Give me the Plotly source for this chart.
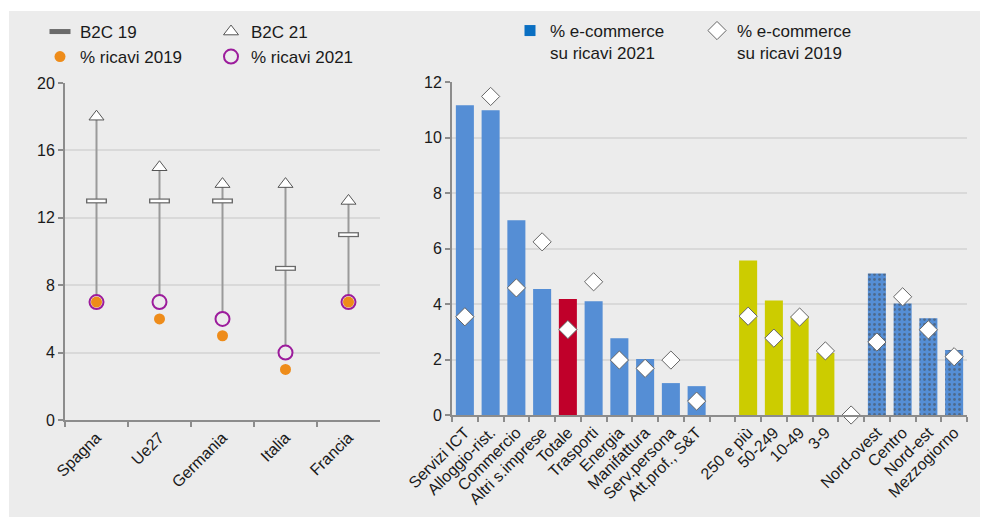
import plotly.graph_objects as go

# left panel: countries
countries = ["Spagna", "Ue27", "Germania", "Italia", "Francia"]
b2c_19 = [13, 13, 13, 9, 11]
b2c_21 = [18, 15, 14, 14, 13]
ricavi_2019 = [7, 6, 5, 3, 7]
ricavi_2021 = [7, 7, 6, 4, 7]
left_ticks = [0, 4, 8, 12, 16, 20]

# right panel: sectors, size classes, areas (blank names are spacer slots)
sectors = [
    "Servizi ICT", "Alloggio-rist.", "Commercio", "Altri s.imprese", "Totale",
    "Trasporti", "Energia", "Manifattura", "Serv.persona", "Att.prof., S&T",
    " ",
    "250 e più", "50-249", "10-49", "3-9",
    "  ",
    "Nord-ovest", "Centro", "Nord-est", "Mezzogiorno",
]
ecom_2021 = [11.16, 10.98, 7.02, 4.54, 4.18, 4.10, 2.77, 2.02, 1.15, 1.04,
             None, 5.57, 4.13, 3.56, 2.23, None, 5.10, 4.02, 3.49, 2.34]
ecom_2019 = [3.54, 11.48, 4.58, 6.24, 3.08, 4.80, 1.98, 1.68, 1.98, 0.50,
             None, 3.56, 2.77, 3.53, 2.31, 0.0, 2.63, 4.26, 3.07, 2.10]
groups = ["settore"] * 4 + ["totale"] + ["settore"] * 5 + [""] + ["addetti"] * 4 + [""] + ["area"] * 4
right_ticks = [0, 2, 4, 6, 8, 10, 12]

W, H = 981, 517
BG = "#ececec"
GRID = "#d9d9d9"
AXIS = "#8c8c8c"
FONT = dict(family="Liberation Sans, Arial, sans-serif", size=16, color="#1a1a1a")

group_color = {"settore": "#558ed5", "totale": "#c0002a", "addetti": "#cccc00", "area": "#558ed5", "": "#558ed5"}
bar_colors = [group_color[g] for g in groups]
bar_patterns = ["." if g == "area" else "" for g in groups]

fig = go.Figure()

# high-low lines: from % ricavi 2021 up to B2C 21
line_x, line_y = [], []
for c, lo, hi in zip(countries, ricavi_2021, b2c_21):
    line_x += [c, c, None]
    line_y += [lo, hi, None]
fig.add_trace(go.Scatter(x=line_x, y=line_y, mode="lines", line=dict(color="#9a9a9a", width=2),
                         showlegend=False, hoverinfo="skip", xaxis="x", yaxis="y"))

fig.add_trace(go.Scatter(x=countries, y=ricavi_2021, mode="markers", name="% ricavi 2021", legendrank=2,
                         marker=dict(symbol="circle", size=14, color=BG, line=dict(color="#9c1c9c", width=2)),
                         legend="legend2", xaxis="x", yaxis="y"))
fig.add_trace(go.Scatter(x=countries, y=ricavi_2019, mode="markers", name="% ricavi 2019", legendrank=1,
                         marker=dict(symbol="circle", size=11, color="#ee8c1a"),
                         legend="legend2", xaxis="x", yaxis="y"))
fig.add_trace(go.Scatter(x=countries, y=b2c_19, mode="markers", name="B2C 19",
                         marker=dict(symbol="line-ew", size=15, line=dict(color="#6a6a6a", width=5)),
                         legend="legend", xaxis="x", yaxis="y"))
fig.add_trace(go.Scatter(x=countries, y=b2c_19, mode="markers", showlegend=False, hoverinfo="skip",
                         marker=dict(symbol="line-ew", size=13, line=dict(color="white", width=2.5)),
                         xaxis="x", yaxis="y"))
fig.add_trace(go.Scatter(x=countries, y=b2c_21, mode="markers", name="B2C 21",
                         marker=dict(symbol="triangle-up", size=13, color="white", line=dict(color="#555555", width=1)),
                         legend="legend", xaxis="x", yaxis="y"))

# right panel (white dots over the geographic area bars)
fig.add_trace(go.Bar(x=sectors, y=ecom_2021, showlegend=False, width=0.7,
                     marker=dict(color=bar_colors, line=dict(width=0),
                                 pattern=dict(shape=bar_patterns, fgcolor="white", fillmode="overlay",
                                              size=5, solidity=0.25)),
                     xaxis="x2", yaxis="y2"))
fig.add_trace(go.Scatter(x=[None], y=[None], mode="markers", name="% e-commerce<br>su ricavi 2021",
                         marker=dict(symbol="square", size=11, color="#0a6fc2"),
                         legend="legend3", xaxis="x2", yaxis="y2"))
fig.add_trace(go.Scatter(x=sectors, y=ecom_2019, mode="markers", name="% e-commerce<br>su ricavi 2019",
                         marker=dict(symbol="diamond", size=14, color="white", line=dict(color="#666666", width=1)),
                         legend="legend3", xaxis="x2", yaxis="y2", cliponaxis=False))

common_axis = dict(showline=True, linecolor=AXIS, linewidth=2, ticks="outside", tickcolor=AXIS,
                   ticklen=5, tickwidth=2, tickfont=FONT, zeroline=False, automargin=False)

legend_base = dict(orientation="h", font=dict(FONT, size=17), bgcolor="rgba(0,0,0,0)",
                   xanchor="left", yanchor="middle", itemwidth=30, tracegroupgap=0)

fig.update_layout(
    width=W, height=H,
    margin=dict(l=0, r=0, t=0, b=0, autoexpand=False),
    paper_bgcolor="white",
    plot_bgcolor="rgba(0,0,0,0)",
    font=FONT,
    bargap=0.3,
    shapes=[dict(type="rect", xref="paper", yref="paper", x0=9 / W, x1=980 / W, y0=0, y1=1 - 11 / H,
                 fillcolor=BG, line=dict(width=0), layer="below")],
    xaxis=dict(common_axis, domain=[65 / W, 380 / W], type="category", tickangle=-45,
               tickson="boundaries", showgrid=False, range=[-0.5, len(countries) - 0.5]),
    yaxis=dict(common_axis, domain=[(H - 420) / H, (H - 83) / H], range=[0, 20], tickvals=left_ticks,
               showgrid=True, gridcolor=GRID, gridwidth=2),
    xaxis2=dict(common_axis, domain=[452 / W, 967 / W], type="category", tickangle=-45,
                tickson="boundaries", showgrid=False, anchor="y2", range=[-0.5, len(sectors) - 0.5]),
    yaxis2=dict(common_axis, domain=[(H - 415) / H, (H - 82) / H], range=[0, 12], tickvals=right_ticks,
                showgrid=True, gridcolor=GRID, gridwidth=2, anchor="x2"),
    legend=dict(legend_base, x=40 / W, y=1 - 32 / H, entrywidth=126),
    legend2=dict(legend_base, x=40 / W, y=1 - 57 / H, entrywidth=126),
    legend3=dict(legend_base, x=510 / W, y=1 - 42 / H, entrywidth=142, valign="top"),
)

# drop the default page margin so the figure sits at the window origin
fig.write_html("out.html", config={"displayModeBar": False},
               post_script="document.body.style.margin='0';document.documentElement.style.overflow='hidden';")
